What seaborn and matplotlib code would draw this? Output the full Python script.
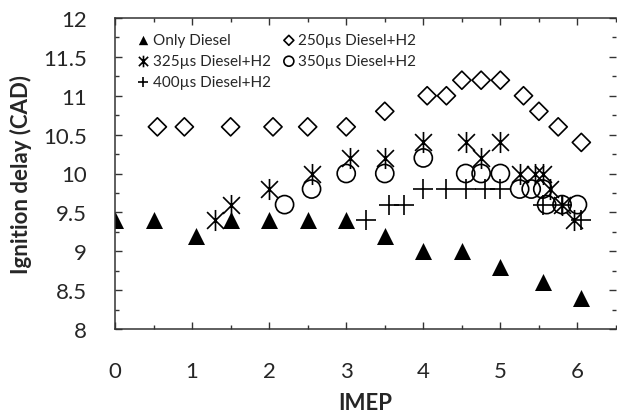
import numpy as np
import pandas as pd
import matplotlib
matplotlib.use("Agg")
import matplotlib.pyplot as plt
import seaborn as sns
from matplotlib.path import Path
from matplotlib.ticker import MultipleLocator

# values
diesel_x = [0, 0.5, 1.05, 1.5, 2.0, 2.5, 3.0, 3.5, 4.0, 4.5, 5.0, 5.55, 6.05]
diesel_y = [9.4, 9.4, 9.2, 9.4, 9.4, 9.4, 9.4, 9.2, 9.0, 9.0, 8.8, 8.6, 8.4]

h250_x = [0.55, 0.9, 1.5, 2.05, 2.5, 3.0, 3.5, 4.05, 4.3, 4.5, 4.75, 5.0, 5.3, 5.5, 5.75, 6.05]
h250_y = [10.6, 10.6, 10.6, 10.6, 10.6, 10.6, 10.8, 11.0, 11.0, 11.2, 11.2, 11.2, 11.0, 10.8, 10.6, 10.4]

h325_x = [1.3, 1.5, 2.0, 2.55, 3.05, 3.5, 4.0, 4.55, 4.75, 5.0, 5.25, 5.45, 5.55, 5.65, 5.8, 5.95]
h325_y = [9.4, 9.6, 9.8, 10.0, 10.2, 10.2, 10.4, 10.4, 10.2, 10.4, 10.0, 10.0, 10.0, 9.8, 9.6, 9.4]

h350_x = [2.2, 2.55, 3.0, 3.5, 4.0, 4.55, 4.75, 5.0, 5.25, 5.4, 5.55, 5.6, 5.8, 6.0]
h350_y = [9.6, 9.8, 10.0, 10.0, 10.2, 10.0, 10.0, 10.0, 9.8, 9.8, 9.8, 9.6, 9.6, 9.6]

h400_x = [3.25, 3.55, 3.75, 4.0, 4.3, 4.55, 4.8, 5.0, 5.55, 5.8, 6.05]
h400_y = [9.4, 9.6, 9.6, 9.8, 9.8, 9.8, 9.8, 9.8, 9.6, 9.6, 9.4]

sns.set_style("ticks")
plt.rcParams["font.family"] = ["Lato", "DejaVu Sans"]

# asterisk marker: vertical bar plus two diagonals
star = Path([(0, -1), (0, 1), (-0.8, -0.8), (0.8, 0.8), (-0.8, 0.8), (0.8, -0.8)],
            [Path.MOVETO, Path.LINETO, Path.MOVETO, Path.LINETO, Path.MOVETO, Path.LINETO])

fig = plt.figure(figsize=(6.17, 4.14), dpi=100)
ax = fig.add_axes([115 / 617, 84 / 414, 501 / 617, 311 / 414])

sns.scatterplot(x=diesel_x, y=diesel_y, marker="^", s=150, color="black",
                linewidth=0, label="Only Diesel", ax=ax)
sns.scatterplot(x=h325_x, y=h325_y, marker=star, s=230, color="black",
                edgecolor="black", linewidth=1.2, label="325µs Diesel+H2", ax=ax)
sns.scatterplot(x=h400_x, y=h400_y, marker="+", s=190, color="black",
                linewidth=1.2, label="400µs Diesel+H2", ax=ax)
sns.scatterplot(x=h250_x, y=h250_y, marker="D", s=85, facecolor="none",
                edgecolor="black", linewidth=1.2, label="250µs Diesel+H2", ax=ax)
sns.scatterplot(x=h350_x, y=h350_y, marker="o", s=170, facecolor="none",
                edgecolor="black", linewidth=1.2, label="350µs Diesel+H2", ax=ax)

ax.set_xlim(0, 6.5)
ax.set_ylim(8, 12)
ax.xaxis.set_major_locator(MultipleLocator(1))
ax.xaxis.set_minor_locator(MultipleLocator(0.5))
ax.yaxis.set_minor_locator(MultipleLocator(0.25))
ax.set_yticks(np.arange(8, 12.01, 0.5))
ax.set_yticklabels(["8", "8.5", "9", "9.5", "10", "10.5", "11", "11.5", "12"])
ax.tick_params(which="both", direction="in", top=True, right=True, labelsize=16,
               color="#333333", width=1.0)
ax.tick_params(axis="x", which="both", pad=23)
ax.tick_params(axis="y", which="both", pad=20)
ax.tick_params(which="major", length=5)
ax.tick_params(which="minor", length=3)

for side in ["left", "bottom", "top"]:
    ax.spines[side].set_color("#333333")
    ax.spines[side].set_linewidth(1.1)
ax.spines["right"].set_visible(False)

ax.set_xlabel("IMEP", fontsize=16, fontweight="bold", labelpad=8)
ax.set_ylabel("Ignition delay (CAD)", fontsize=16, fontweight="bold", labelpad=8)

ax.legend(loc="upper left", bbox_to_anchor=(0.02, 0.99), ncol=2, fontsize=11,
          frameon=False, markerscale=0.55, handletextpad=0.2, handlelength=0.8,
          columnspacing=0.8, labelspacing=0.45, borderaxespad=0.4)

fig.savefig("out.png", dpi=100)
